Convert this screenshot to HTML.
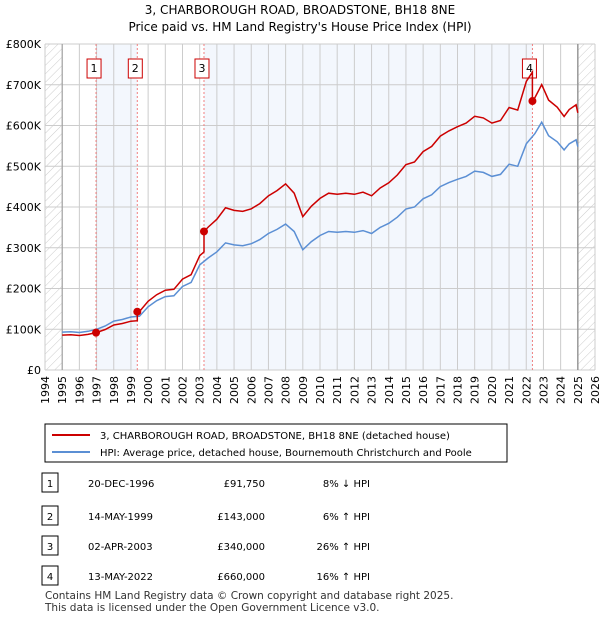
<!DOCTYPE html>
<html><head><meta charset="utf-8"><style>
body{margin:0;background:#fff;font-family:"DejaVu Sans",sans-serif;}
</style></head><body>
<svg id="c" width="600" height="620" xmlns="http://www.w3.org/2000/svg" font-family="DejaVu Sans, sans-serif">
<defs><pattern id="hatch" width="6" height="6" patternUnits="userSpaceOnUse" patternTransform="rotate(45)"><line x1="0" y1="0" x2="0" y2="6" stroke="#ccc" stroke-width="1"/></pattern></defs>
<text x="300" y="14" text-anchor="middle" font-size="12">3, CHARBOROUGH ROAD, BROADSTONE, BH18 8NE</text>
<text x="300" y="31" text-anchor="middle" font-size="12">Price paid vs. HM Land Registry's House Price Index (HPI)</text>
<g id="plot"></g>
<g>
<rect x="45" y="424" width="462" height="38" fill="#fff" stroke="#000" stroke-width="1"/>
<line x1="52" y1="435" x2="90" y2="435" stroke="#cc0000" stroke-width="2"/>
<text x="100" y="439" font-size="10">3, CHARBOROUGH ROAD, BROADSTONE, BH18 8NE (detached house)</text>
<line x1="52" y1="452" x2="90" y2="452" stroke="#5b8fd4" stroke-width="2"/>
<text x="100" y="456" font-size="10">HPI: Average price, detached house, Bournemouth Christchurch and Poole</text>
</g>
<g id="tbl" font-size="10"></g>
<text x="45" y="599" font-size="10.5" fill="#333">Contains HM Land Registry data © Crown copyright and database right 2025.</text>
<text x="45" y="611" font-size="10.5" fill="#333">This data is licensed under the Open Government Licence v3.0.</text>
</svg>
<script>
const hpiYears=[1995,1995.5,1996,1996.5,1997,1997.5,1998,1998.5,1999,1999.5,2000,2000.5,2001,2001.5,2002,2002.5,2003,2003.5,2004,2004.5,2005,2005.5,2006,2006.5,2007,2007.5,2008,2008.5,2009,2009.5,2010,2010.5,2011,2011.5,2012,2012.5,2013,2013.5,2014,2014.5,2015,2015.5,2016,2016.5,2017,2017.5,2018,2018.5,2019,2019.5,2020,2020.5,2021,2021.5,2022,2022.5,2022.9,2023.3,2023.8,2024.2,2024.5,2024.9,2025.0];
const hpiValues=[93,94,92,95,100,108,120,124,130,132,155,170,180,182,205,215,258,275,290,312,307,305,310,320,335,345,358,340,295,315,330,340,338,340,338,342,335,350,360,375,395,400,420,430,450,460,468,475,488,485,475,480,505,500,555,580,608,575,560,540,555,565,548];
const saleLabels=["1","2","3","4"];
const saleDates=[1996.97,1999.37,2003.25,2022.36];
const salePrices=[91750,143000,340000,660000];
const saleDateText=["20-DEC-1996","14-MAY-1999","02-APR-2003","13-MAY-2022"];
const salePriceText=["£91,750","£143,000","£340,000","£660,000"];
const saleHpiText=["8% ↓ HPI","6% ↑ HPI","26% ↑ HPI","16% ↑ HPI"];
const yTicks=[0,100,200,300,400,500,600,700,800];
const yTickLabels=["£0","£100K","£200K","£300K","£400K","£500K","£600K","£700K","£800K"];
const xYears=[1994,1995,1996,1997,1998,1999,2000,2001,2002,2003,2004,2005,2006,2007,2008,2009,2010,2011,2012,2013,2014,2015,2016,2017,2018,2019,2020,2021,2022,2023,2024,2025,2026];

const NS="http://www.w3.org/2000/svg";
const L=45,R=595,T=44,B=370;
const X=y=>L+(y-1994)/(2026-1994)*(R-L);
const Y=v=>B-v/800*(B-T);
function mk(tag,attrs,parent){const e=document.createElementNS(NS,tag);for(const k in attrs)e.setAttribute(k,attrs[k]);(parent||plot).appendChild(e);return e;}
const plot=document.getElementById('plot');
function hpiAt(t){for(let i=0;i<hpiYears.length-1;i++){if(t<=hpiYears[i+1]){const f=(t-hpiYears[i])/(hpiYears[i+1]-hpiYears[i]);return hpiValues[i]+f*(hpiValues[i+1]-hpiValues[i]);}}return hpiValues[hpiValues.length-1];}

let e=mk('rect',{x:L,y:T,width:R-L,height:B-T,fill:'#fff'});

e=mk('rect',{x:L,y:T,width:X(1995)-L,height:B-T,fill:'url(#hatch)'});

e=mk('rect',{x:X(2025),y:T,width:R-X(2025),height:B-T,fill:'url(#hatch)'});

[[0,1],[2,3]].forEach(p=>{const r=mk('rect',{x:X(saleDates[p[0]]),y:T,width:X(saleDates[p[1]])-X(saleDates[p[0]]),height:B-T,fill:'#eef3fc',opacity:0.7});
});
xYears.forEach((yr,i)=>{const g=mk('line',{x1:X(yr),x2:X(yr),y1:T,y2:B,stroke:'#ccc','stroke-width':1});

const t=mk('text',{x:0,y:0,'font-size':11,'text-anchor':'end',transform:`translate(${X(yr)+4},${B+6}) rotate(-90)`});t.textContent=yr;
});
yTicks.forEach((v,i)=>{const g=mk('line',{x1:L,x2:R,y1:Y(v),y2:Y(v),stroke:'#ccc','stroke-width':1});

const t=mk('text',{x:L-4,y:Y(v)+4,'font-size':11,'text-anchor':'end'});t.textContent=yTickLabels[i];
});
e=mk('line',{x1:X(1995),x2:X(1995),y1:T,y2:B,stroke:'#999','stroke-width':1});

e=mk('line',{x1:X(2025),x2:X(2025),y1:T,y2:B,stroke:'#999','stroke-width':1.5});

saleDates.forEach((d,i)=>{const l=mk('line',{x1:X(d),x2:X(d),y1:T,y2:B,stroke:'#f08080','stroke-width':1,'stroke-dasharray':'2,2'});

const r=mk('rect',{x:X(d)-(i==3?10:9),y:59,width:14,height:19,fill:'#fff',stroke:'#cc0000'});

const t=mk('text',{x:+r.getAttribute('x')+7,y:72,'font-size':11,'text-anchor':'middle'});t.textContent=saleLabels[i];
});
let ph='';hpiYears.forEach((yr,i)=>{ph+=(i?'L':'M')+X(yr).toFixed(1)+','+Y(hpiValues[i]).toFixed(1);});
e=mk('path',{d:ph,fill:'none',stroke:'#5b8fd4','stroke-width':1.5});

const pts=[...hpiYears];saleDates.forEach(d=>{pts.push(d-0.001,d);});pts.sort((a,b)=>a-b);
let pr='';pts.forEach((t,i)=>{let k=0;for(let j=0;j<saleDates.length;j++)if(t>=saleDates[j])k=j;
const v=salePrices[k]/1000*hpiAt(t)/hpiAt(saleDates[k]);pr+=(i?'L':'M')+X(t).toFixed(1)+','+Y(v).toFixed(1);});
e=mk('path',{d:pr,fill:'none',stroke:'#cc0000','stroke-width':1.5});

saleDates.forEach((d,i)=>{const c=mk('circle',{cx:X(d),cy:Y(salePrices[i]/1000),r:4,fill:'#cc0000'});
});
const tbl=document.getElementById('tbl');const rowY=[483,516,546,576];
saleLabels.forEach((s,i)=>{const y=rowY[i];
const b=mk('rect',{x:42,y:y-10,width:16,height:19,fill:'#fff',stroke:'#000'},tbl);

const cells=[[50,s,'middle'],[88,saleDateText[i],'start'],[265,salePriceText[i],'end'],[370,saleHpiText[i],'end']];
cells.forEach((c,j)=>{const t=mk('text',{x:c[0],y:y+4,'text-anchor':c[2]},tbl);t.textContent=c[1];
});});
</script>
</body></html>
